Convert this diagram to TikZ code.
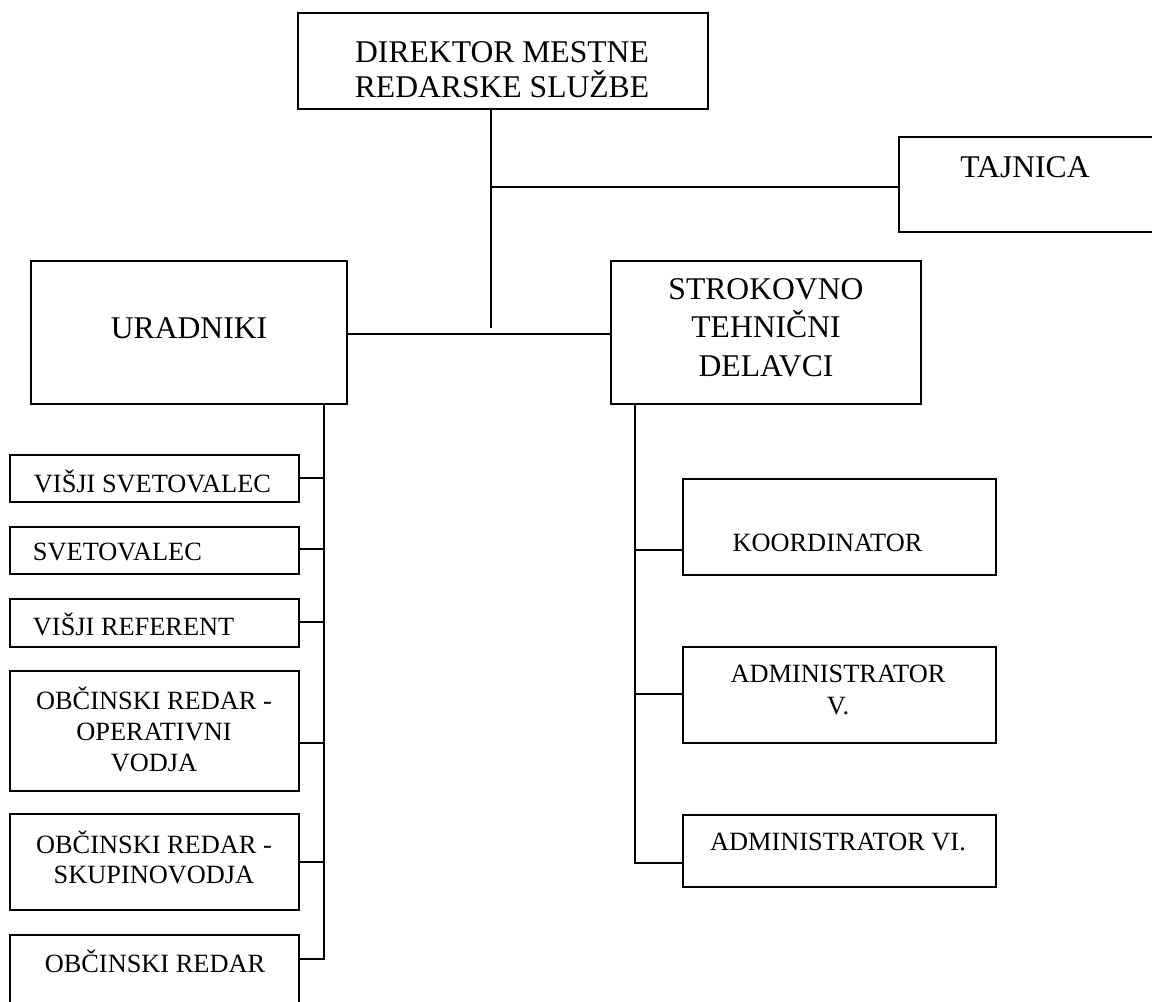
\documentclass[tikz,border=0pt]{standalone}
\usepackage{fontspec}
\setmainfont{Liberation Serif}

\begin{document}
\begin{tikzpicture}[x = 0.02cm, y = -0.02cm, line width = 1.1pt,
	box/.style = {draw, rectangle, inner sep = 0pt},
	big/.style = {font = \fontsize{18}{19.9}\selectfont, align = center, inner sep = 0pt},
	small/.style = {font = \fontsize{15}{17.6}\selectfont, align = center, inner sep = 0pt}]

	% Definitions

	\def\leftw{5.78cm}		% width of the boxes under URADNIKI
	\def\rightw{6.26cm}		% width of the boxes under STROKOVNO
	\def\midh{2.86cm}		% height of the two middle boxes

	% Page

	\useasboundingbox (0, 0) rectangle (1152, 1001);
	\clip (0, 0) rectangle (1152, 1001);

	% Top of the chart

	\node [box, minimum width = 8.2cm, minimum height = 1.92cm] (direktor) at (503, 61) {};
	\node [big] (direktor-txt) at (502, 69.5) {DIREKTOR MESTNE\\REDARSKE SLUŽBE};

	\node [box, minimum width = 5.52cm, minimum height = 1.9cm] (tajnica) at (1037, 184.5) {};
	\node [big] (tajnica-txt) at (1025, 167) {TAJNICA};

	\node [box, minimum width = 6.32cm, minimum height = \midh] (uradniki) at (189, 332.5) {};
	\node [big] (uradniki-txt) at (189, 328) {URADNIKI};

	\node [box, minimum width = 6.2cm, minimum height = \midh] (strokovno) at (766, 332.5) {};
	\node [big, font = \fontsize{18}{21.9}\selectfont] (strokovno-txt) at (766, 327.5)
		{STROKOVNO\\TEHNIČNI\\DELAVCI};

	% Boxes under URADNIKI

	\node [box, minimum width = \leftw, minimum height = 0.94cm] (visjisvet) at (154.5, 478.5) {};
	\node [small, anchor = west] (visjisvet-txt) at (33, 481) {VIŠJI SVETOVALEC};

	\node [box, minimum width = \leftw, minimum height = 0.94cm] (svet) at (154.5, 550.5) {};
	\node [small, anchor = west] (svet-txt) at (32, 552) {SVETOVALEC};

	\node [box, minimum width = \leftw, minimum height = 0.96cm] (visjiref) at (154.5, 623) {};
	\node [small, anchor = west] (visjiref-txt) at (32, 624.5) {VIŠJI REFERENT};

	\node [box, minimum width = \leftw, minimum height = 2.4cm] (opvodja) at (154.5, 731) {};
	\node [small] (opvodja-txt) at (154, 729) {OBČINSKI REDAR -\\OPERATIVNI\\VODJA};

	\node [box, minimum width = \leftw, minimum height = 1.92cm] (skupvodja) at (154.5, 862) {};
	\node [small, font = \fontsize{15}{17}\selectfont] (skupvodja-txt) at (154, 857)
		{OBČINSKI REDAR -\\SKUPINOVODJA};

	\node [box, minimum width = \leftw, minimum height = 1.9cm] (redar) at (154.5, 982.5) {};
	\node [small] (redar-txt) at (155, 961) {OBČINSKI REDAR};

	% Boxes under STROKOVNO TEHNIČNI DELAVCI

	\node [box, minimum width = \rightw, minimum height = 1.92cm] (koord) at (839.5, 527) {};
	\node [small] (koord-txt) at (827.5, 543) {KOORDINATOR};

	\node [box, minimum width = \rightw, minimum height = 1.92cm] (adminV) at (839.5, 695) {};
	\node [small, font = \fontsize{15}{18.2}\selectfont] (adminV-txt) at (838, 690)
		{ADMINISTRATOR\\V.};

	\node [box, minimum width = \rightw, minimum height = 1.44cm] (adminVI) at (839.5, 851) {};
	\node [small] (adminVI-txt) at (838, 841.5) {ADMINISTRATOR VI.};

	% Connectors

	\coordinate (dir-knee) at (491, 187);
	\coordinate (dir-foot) at (491, 328);
	\coordinate (mid-bar) at (0, 334);

	\draw (direktor.south -| dir-foot) -- (dir-foot);
	\draw (dir-knee) -- (dir-knee -| tajnica.west);
	\draw (uradniki.east |- mid-bar) -- (strokovno.west |- mid-bar);

	% Left branch

	\coordinate (u-spine) at (324, 959);
	\draw (uradniki.south -| u-spine) -- (u-spine) -- (redar.east |- u-spine);
	\foreach \name/\y in {visjisvet/478, svet/549, visjiref/622, opvodja/743, skupvodja/862}
	{
		\coordinate (\name-stub) at (0, \y);
		\draw (\name.east |- \name-stub) -- (u-spine |- \name-stub);
	}

	% Right branch

	\coordinate (s-spine) at (635, 863);
	\draw (strokovno.south -| s-spine) -- (s-spine) -- (adminVI.west |- s-spine);
	\foreach \name/\y in {koord/550, adminV/694}
	{
		\coordinate (\name-stub) at (0, \y);
		\draw (\name.west |- \name-stub) -- (s-spine |- \name-stub);
	}

\end{tikzpicture}
\end{document}
